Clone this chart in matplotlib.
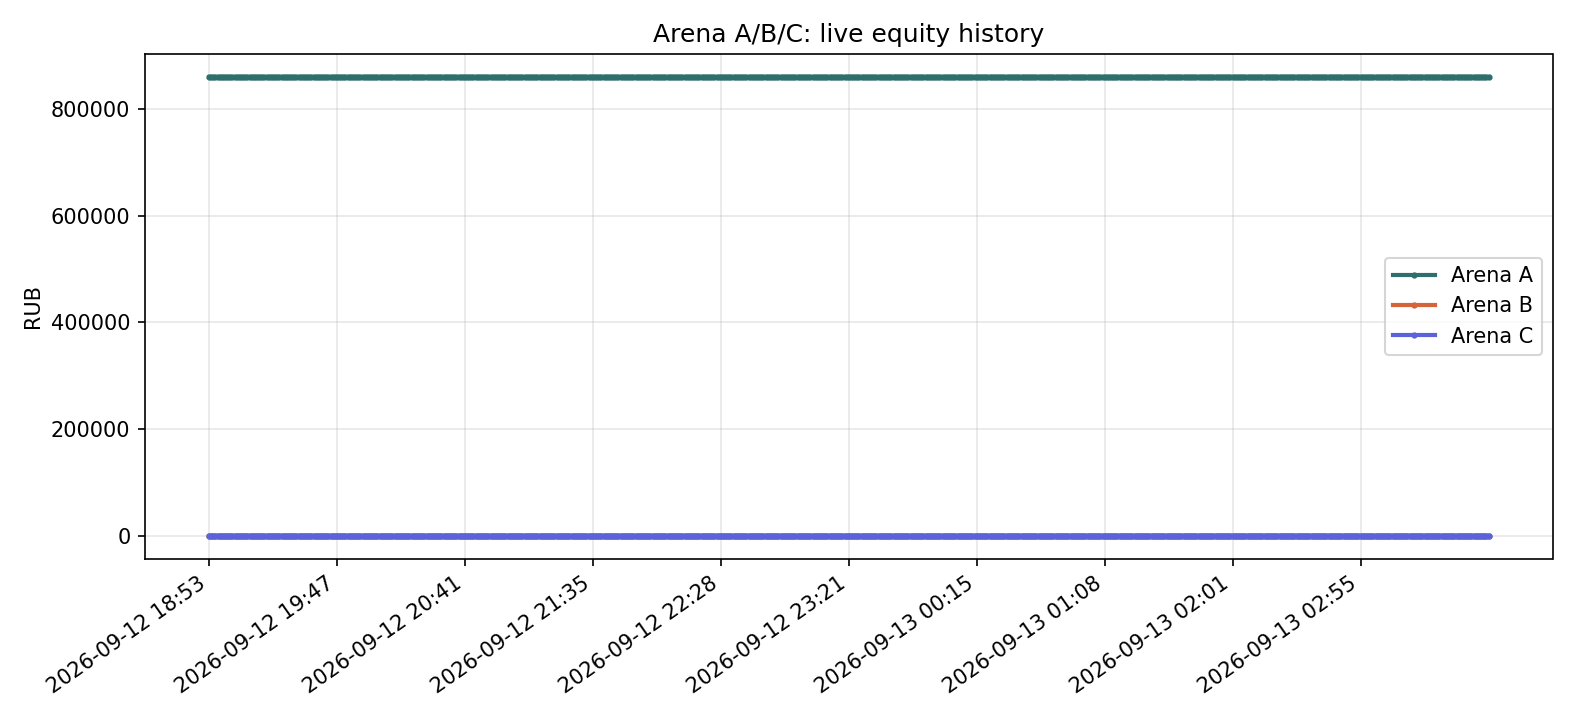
import matplotlib
matplotlib.use("Agg")
import matplotlib.pyplot as plt

# x axis is sample index; labels shown every `step` samples
step = 60
n_points = 10 * step + 1
tick_labels = ["2026-09-12 18:53", "2026-09-12 19:47", "2026-09-12 20:41",
               "2026-09-12 21:35", "2026-09-12 22:28", "2026-09-12 23:21",
               "2026-09-13 00:15", "2026-09-13 01:08", "2026-09-13 02:01",
               "2026-09-13 02:55"]
equity_a = [860000] * n_points
equity_b = [0] * n_points
equity_c = [0] * n_points

x = list(range(n_points))
fig, ax = plt.subplots(figsize=(10.5, 4.8), dpi=150)
ax.plot(x, equity_a, color="#2e6e6c", lw=2, marker="o", ms=2, label="Arena A")
ax.plot(x, equity_b, color="#d6643a", lw=2, marker="o", ms=2, label="Arena B")
ax.plot(x, equity_c, color="#5a64d8", lw=2, marker="o", ms=2, label="Arena C")

ax.set_xticks([i * step for i in range(len(tick_labels))])
ax.set_xticklabels(tick_labels, rotation=35, ha="right")
ax.set_ylabel("RUB")
ax.set_title("Arena A/B/C: live equity history")
ax.grid(True, alpha=0.3)
ax.legend(loc="center right")
fig.tight_layout()
fig.savefig("out.png")
